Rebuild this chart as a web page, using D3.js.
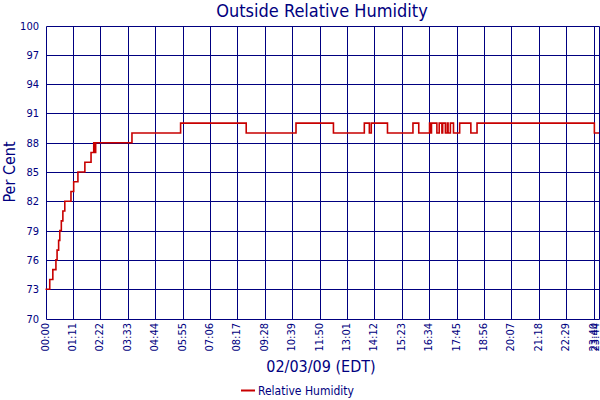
<!DOCTYPE html>
<html><head><meta charset="utf-8">
<script src="https://cdn.jsdelivr.net/npm/d3@7"></script>
<style>
html,body{margin:0;padding:0;background:#fff;}
svg{display:block;}
text{font-family:"DejaVu Sans Condensed","DejaVu Sans",sans-serif;fill:#000080;}
</style></head>
<body>
<svg id="c" width="600" height="400"></svg>
<script>
// ---- data ----
const title = "Outside Relative Humidity";
const yTitle = "Per Cent";
const xTitle = "02/03/09 (EDT)";
const seriesName = "Relative Humidity";
// minutes since midnight at which each reading begins (step data)
const times  = [0, 11, 19, 27, 30, 34, 37, 41, 45, 50, 66, 73, 84, 102, 118, 125, 127, 130, 224, 350, 520, 649, 746, 826, 839, 844, 886, 952, 967, 995, 998, 1000, 1014, 1020, 1027, 1029, 1036, 1041, 1043, 1049, 1057, 1073, 1102, 1118, 1422, 1434];
const values = [73, 74, 75, 76, 77, 78, 79, 80, 81, 82, 83, 84, 85, 86, 87, 88, 87, 88, 89, 90, 89, 90, 89, 90, 89, 90, 89, 90, 89, 90, 89, 90, 89, 90, 89, 90, 89, 90, 89, 90, 89, 90, 89, 90, 89, 89];
const xTickMinutes = [0, 71, 142, 213, 284, 355, 426, 497, 568, 639, 710, 781, 852, 923, 994, 1065, 1136, 1207, 1278, 1349, 1420, 1434];
const xTickLabels = ["00:00","01:11","02:22","03:33","04:44","05:55","07:06","08:17","09:28","10:39","11:50","13:01","14:12","15:23","16:34","17:45","18:56","20:07","21:18","22:29","23:40","23:44"];
const yTicks = [70, 73, 76, 79, 82, 85, 88, 91, 94, 97, 100];
const xDomain = [0, 1434];
const yDomain = [70, 100];

// ---- drawing ----
const svg = d3.select("#c");
const navy = "#000080";
const red = "#c80000";
const x = d3.scaleLinear().domain(xDomain).range([45.5, 599]);
const y = d3.scaleLinear().domain(yDomain).range([318.5, 25.5]);
const px = v => Math.round(v) + 0.5;

const g = svg.append("g");
// horizontal grid
g.selectAll("line.h").data(yTicks).join("line")
  .attr("x1", px(x(xDomain[0]))).attr("x2", px(x(xDomain[1])))
  .attr("y1", d => px(y(d))).attr("y2", d => px(y(d)))
  .attr("stroke", navy).attr("stroke-width", 1);
// vertical grid
g.selectAll("line.v").data(xTickMinutes).join("line")
  .attr("x1", d => px(x(d))).attr("x2", d => px(x(d)))
  .attr("y1", px(y(yDomain[0]))).attr("y2", px(y(yDomain[1])))
  .attr("stroke", navy).attr("stroke-width", 1);

// data line
const pts = times.map((t, i) => [t, values[i]]);
const line = d3.line().x(d => x(d[0])).y(d => y(d[1])).curve(d3.curveStepAfter);
svg.append("path").datum(pts).attr("d", line)
  .attr("fill", "none").attr("stroke", red).attr("stroke-width", 1.6);

// y tick labels
svg.selectAll("text.yt").data(yTicks).join("text")
  .attr("x", 39).attr("y", d => y(d) + 4)
  .attr("text-anchor", "end").attr("font-size", 11).text(d => d);

// x tick labels (rotated)
svg.selectAll("text.xt").data(xTickMinutes).join("text")
  .attr("transform", d => `translate(${Math.min(x(d) + 3, 598.5)},${323}) rotate(-90)`)
  .attr("text-anchor", "end").attr("font-size", 11)
  .text((d, i) => xTickLabels[i]);

// titles
svg.append("text").attr("x", 322).attr("y", 17).attr("text-anchor", "middle")
  .attr("font-size", 18).text(title);
svg.append("text").attr("transform", "translate(15,172) rotate(-90)")
  .attr("text-anchor", "middle").attr("font-size", 16).text(yTitle);
svg.append("text").attr("x", 321).attr("y", 372).attr("text-anchor", "middle")
  .attr("font-size", 16).text(xTitle);

// legend
svg.append("line").attr("x1", 241).attr("x2", 255).attr("y1", 390.5).attr("y2", 390.5)
  .attr("stroke", red).attr("stroke-width", 2);
svg.append("text").attr("x", 258).attr("y", 395).attr("font-size", 12).text(seriesName);
</script>
</body></html>
